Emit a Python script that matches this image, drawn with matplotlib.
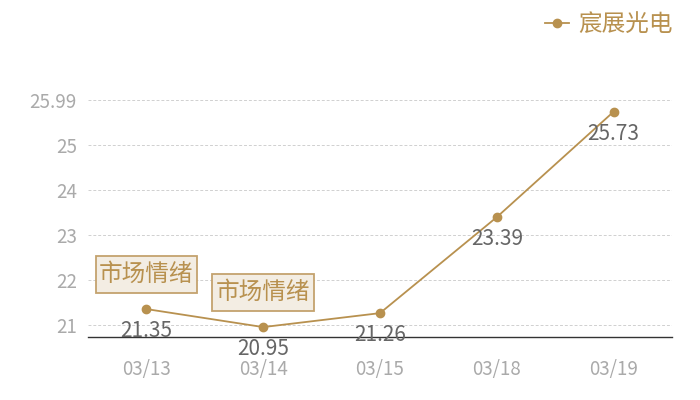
import matplotlib
matplotlib.use("Agg")
import matplotlib.pyplot as plt
from matplotlib.lines import Line2D

plt.rcParams['font.family'] = ['Noto Sans CJK SC', 'DejaVu Sans']

# data
dates = ["03/13", "03/14", "03/15", "03/18", "03/19"]
prices = [21.35, 20.95, 21.26, 23.39, 25.73]
series_name = "宸展光电"
mark_idx = [0, 1]
mark_text = "市场情绪"
yticks = [21, 22, 23, 24, 25, 25.99]
ytick_labels = ["21", "22", "23", "24", "25", "25.99"]

gold = "#b8914f"

fig = plt.figure(figsize=(7, 4), dpi=100)
ax = fig.add_axes([88/700, 63/400, 584/700, 237/400])

x = list(range(len(dates)))
ax.plot(x, prices, color=gold, lw=1.3, marker="o", ms=6, zorder=3)

# value labels below points
for i, v in zip(x, prices):
    ax.annotate(f"{v:.2f}", (i, v), xytext=(0, -16), textcoords="offset points",
                ha="center", va="center", fontsize=15, color="#666666", zorder=4)

# sentiment boxes
for i in mark_idx:
    ax.annotate(mark_text, (i, prices[i]), xytext=(0, 25), textcoords="offset points",
                ha="center", va="center", fontsize=17, color=gold, zorder=5,
                bbox=dict(boxstyle="square,pad=0.15", fc="#f3ede3", ec="#c4a26e",
                          lw=1.3, mutation_aspect=2.0))

ax.set_xlim(-0.5, len(dates) - 0.5)
ax.set_ylim(20.73, 25.99)
ax.set_xticks(x)
ax.set_xticklabels(dates)
ax.set_yticks(yticks)
ax.set_yticklabels(ytick_labels)
ax.tick_params(axis="both", length=0, labelsize=13.5, labelcolor="#aaaaaa")
ax.tick_params(axis="x", pad=16)
ax.tick_params(axis="y", pad=8)
ax.grid(axis="y", color="#d0d0d0", ls=(0, (3, 2)), lw=0.7)
ax.set_axisbelow(True)
for s in ["top", "right", "left"]:
    ax.spines[s].set_visible(False)
ax.spines["bottom"].set_color("#333333")
ax.spines["bottom"].set_linewidth(1)

handle = Line2D([], [], color=gold, lw=1.3, marker="o", ms=6)
fig.legend([handle], [series_name], loc="upper right", bbox_to_anchor=(0.98, 1.0),
           frameon=False, fontsize=17, labelcolor=gold, handlelength=1.0,
           handletextpad=0.4, borderaxespad=0.15)

fig.savefig("out.png", dpi=100)
